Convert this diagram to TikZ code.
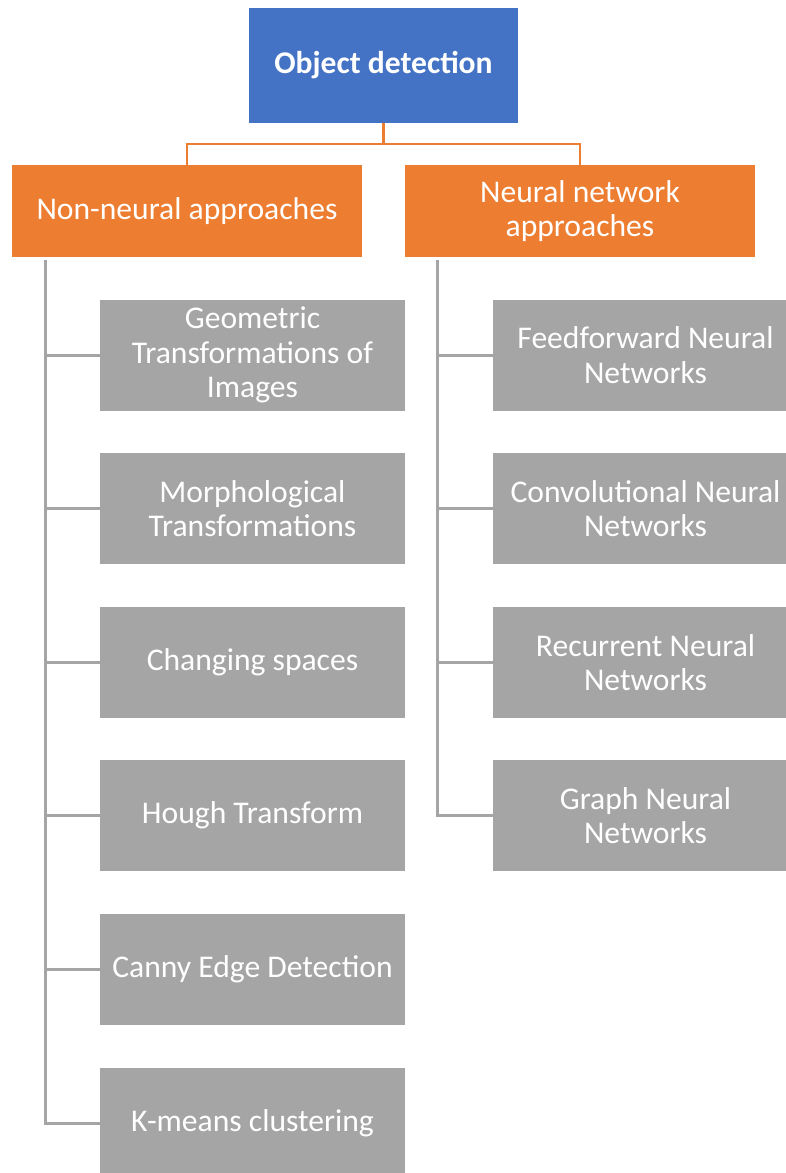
\documentclass[tikz,border=0pt]{standalone}
\usepackage{fontspec}
\setmainfont{Carlito}
\usetikzlibrary{calc}
\definecolor{topblue}{HTML}{4472C4}
\definecolor{accent}{HTML}{ED7D31}
\definecolor{leafgray}{HTML}{A5A5A5}
\begin{document}
\begin{tikzpicture}[x=1pt,y=-1pt,
  box/.style={rectangle, inner sep=0pt, text=white, align=center,
    font=\fontsize{31.6}{34.5}\selectfont},
  rootbox/.style={box, fill=topblue, minimum width=269pt, minimum height=115pt,
    font=\fontsize{31.6}{34.5}\selectfont\bfseries},
  groupbox/.style={box, fill=accent, minimum width=350pt, minimum height=92pt},
  leafbox/.style={box, fill=leafgray, minimum width=305pt, minimum height=111pt},
  busline/.style={draw=accent, line width=2.5pt},
  treeline/.style={draw=leafgray, line width=3pt}]
\useasboundingbox (0,0) rectangle (786,1173);
\clip (0,0) rectangle (786,1173);

% root and the two groups
\node[rootbox] (root) at (383.5,65.5) {Object detection};
\node[groupbox] (nn) at (187,211) {Non-neural approaches};
\node[groupbox] (nna) at (580,211) {Neural network\\approaches};

% non-neural leaves
\node[leafbox] (g1) at (252.5,355) {Geometric\\Transformations of\\Images};
\node[leafbox] (g2) at (252.5,508.5) {Morphological\\Transformations};
\node[leafbox] (g3) at (252.5,662.5) {Changing spaces};
\node[leafbox] (g4) at (252.5,815.5) {Hough Transform};
\node[leafbox] (g5) at (252.5,969.5) {Canny Edge Detection};
\node[leafbox] (g6) at (252.5,1123) {K-means clustering};

% neural leaves
\node[leafbox] (n1) at (645.5,355) {Feedforward Neural\\Networks};
\node[leafbox] (n2) at (645.5,508.5) {Convolutional Neural\\Networks};
\node[leafbox] (n3) at (645.5,662.5) {Recurrent Neural\\Networks};
\node[leafbox] (n4) at (645.5,815.5) {Graph Neural\\Networks};

% root to groups
\coordinate (bus) at ($(root.south)+(0,21)$);
\draw[busline] (root.south) -- (bus) -| (nn.north);
\draw[busline] (bus) -| (nna.north);

% group trunks to leaves
\coordinate (ltrunk) at ($(nn.south west)+(34,3)$);
\coordinate (rtrunk) at ($(nna.south west)+(33,3)$);
\foreach \k in {1,...,6} \draw[treeline] (ltrunk) |- (g\k.west);
\foreach \k in {1,...,4} \draw[treeline] (rtrunk) |- (n\k.west);
\end{tikzpicture}
\end{document}
